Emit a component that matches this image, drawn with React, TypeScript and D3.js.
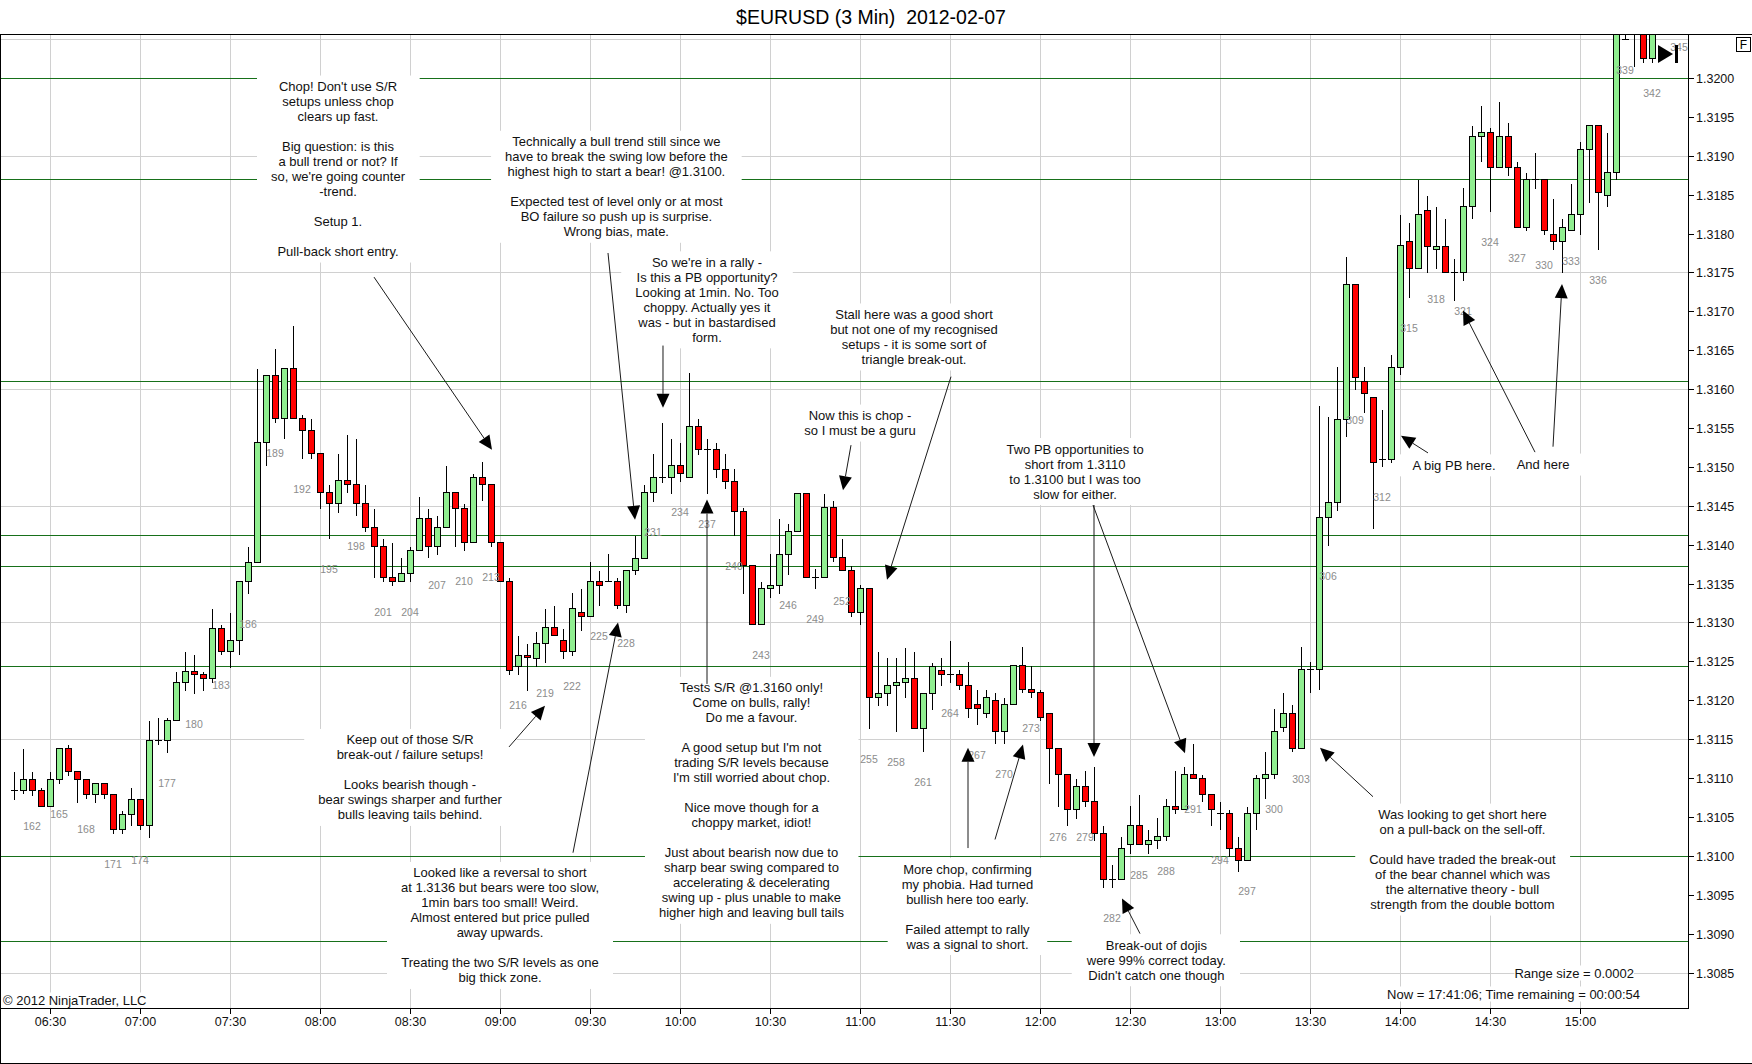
import { useEffect, useRef } from 'react';
import * as d3 from 'd3';

// 3 min EURUSD bars, numbered from firstBar
const firstBar = 160;
const opens = [
  1.31084, 1.31084, 1.31099, 1.31084, 1.31064, 1.31099, 1.31139, 1.31109, 1.31099, 1.31079,
  1.31094, 1.31079, 1.31035, 1.31054, 1.31073, 1.31039, 1.31149, 1.31149, 1.31174, 1.31223,
  1.31238, 1.31234, 1.31229, 1.31293, 1.31263, 1.31278, 1.31353, 1.31378, 1.31532, 1.31618,
  1.31563, 1.31627, 1.31563, 1.31547, 1.31518, 1.31468, 1.31453, 1.31483, 1.31478, 1.31453,
  1.31423, 1.31398, 1.31358, 1.31353, 1.31363, 1.31393, 1.31434, 1.31398, 1.31423, 1.31468,
  1.31447, 1.31403, 1.31487, 1.31478, 1.31403, 1.31353, 1.31244, 1.31258, 1.31254, 1.31273,
  1.31294, 1.31278, 1.31263, 1.31313, 1.31308, 1.31353, 1.31353, 1.31353, 1.31323, 1.31368,
  1.31383, 1.31468, 1.31487, 1.31487, 1.31502, 1.31487, 1.31553, 1.31523, 1.31523, 1.31497,
  1.31482, 1.31443, 1.31374, 1.31298, 1.31344, 1.31348, 1.31388, 1.31418, 1.31467, 1.31358,
  1.31358, 1.31448, 1.31384, 1.31368, 1.31313, 1.31344, 1.31204, 1.31209, 1.31219, 1.31223,
  1.31228, 1.31164, 1.31209, 1.31239, 1.31234, 1.31234, 1.31219, 1.31195, 1.31184, 1.312,
  1.3116, 1.31195, 1.31245, 1.31214, 1.3121, 1.31184, 1.31139, 1.31105, 1.3106, 1.3109,
  1.3107, 1.31029, 1.3097, 1.3097, 1.31015, 1.31039, 1.31015, 1.3102, 1.31025, 1.31064,
  1.3106, 1.31105, 1.311, 1.3108, 1.31055, 1.31055, 1.3101, 1.30995, 1.31055, 1.311,
  1.31105, 1.31165, 1.31184, 1.31139, 1.3124, 1.3124, 1.31436, 1.31455, 1.31561, 1.31735,
  1.3161, 1.3159, 1.3151, 1.3151, 1.31629, 1.3179, 1.31756, 1.3183, 1.3178, 1.31784,
  1.31751, 1.31751, 1.31835, 1.31925, 1.3193, 1.31885, 1.31925, 1.31885, 1.31809, 1.3187,
  1.3187, 1.318, 1.3179, 1.31804, 1.31825, 1.31909, 1.31939, 1.3185, 1.31879, 1.3205,
  1.3207, 1.3206, 1.32026, 1.3207, 1.321, 1.3212,
];
const highs = [
  1.31109, 1.31139, 1.31109, 1.31089, 1.31109, 1.31139, 1.31144, 1.31109, 1.31099, 1.31094,
  1.31094, 1.31079, 1.31059, 1.31089, 1.31073, 1.31174, 1.31179, 1.31179, 1.31238, 1.31263,
  1.31259, 1.31238, 1.31318, 1.31298, 1.31313, 1.31353, 1.31398, 1.31627, 1.31618, 1.31653,
  1.31627, 1.31683, 1.31568, 1.31563, 1.31518, 1.31478, 1.31518, 1.31542, 1.31537, 1.31478,
  1.31447, 1.31408, 1.31403, 1.31384, 1.31398, 1.31463, 1.31447, 1.31438, 1.31503, 1.31468,
  1.31453, 1.31492, 1.31508, 1.31478, 1.31403, 1.31358, 1.31284, 1.31273, 1.31289, 1.31319,
  1.31323, 1.31293, 1.31339, 1.31344, 1.31379, 1.31368, 1.31389, 1.31358, 1.31368, 1.31413,
  1.31478, 1.31518, 1.31558, 1.31537, 1.31532, 1.31622, 1.31563, 1.31537, 1.31532, 1.31518,
  1.31498, 1.31448, 1.31374, 1.31353, 1.31389, 1.31434, 1.31428, 1.31467, 1.31467, 1.3137,
  1.31467, 1.31458, 1.31409, 1.31374, 1.31349, 1.31344, 1.31263, 1.31255, 1.31255, 1.31269,
  1.31263, 1.31209, 1.31249, 1.31255, 1.31278, 1.3124, 1.3125, 1.31214, 1.31214, 1.3121,
  1.31204, 1.31245, 1.3127, 1.31245, 1.31214, 1.31184, 1.31139, 1.31105, 1.311, 1.3111,
  1.31115, 1.3104, 1.30989, 1.31025, 1.31065, 1.3108, 1.31034, 1.3105, 1.31074, 1.3111,
  1.31115, 1.31145, 1.31105, 1.3108, 1.3107, 1.3106, 1.31025, 1.31064, 1.31105, 1.31135,
  1.3119, 1.3121, 1.31195, 1.3127, 1.3125, 1.3158, 1.31566, 1.3163, 1.31771, 1.31735,
  1.3163, 1.3159, 1.31575, 1.31645, 1.31825, 1.31815, 1.3187, 1.3185, 1.31835, 1.3182,
  1.31769, 1.3186, 1.31939, 1.31965, 1.31937, 1.3197, 1.31944, 1.31893, 1.31879, 1.31905,
  1.3187, 1.31846, 1.3182, 1.31865, 1.31919, 1.31939, 1.31939, 1.3193, 1.3209, 1.321,
  1.3209, 1.3208, 1.321, 1.3212, 1.3214, 1.3215,
];
const lows = [
  1.31073, 1.31081, 1.31078, 1.31064, 1.31064, 1.31094, 1.31104, 1.31069, 1.31074, 1.31069,
  1.31074, 1.31029, 1.31029, 1.31039, 1.31034, 1.31024, 1.31144, 1.31134, 1.31174, 1.31213,
  1.31209, 1.31213, 1.31223, 1.31259, 1.31243, 1.31259, 1.31338, 1.31378, 1.31502, 1.31558,
  1.31537, 1.31563, 1.31512, 1.31512, 1.31447, 1.31408, 1.31442, 1.31468, 1.31438, 1.31418,
  1.31358, 1.31353, 1.31348, 1.31353, 1.31353, 1.31393, 1.31384, 1.31388, 1.31423, 1.31398,
  1.31393, 1.31403, 1.31458, 1.31398, 1.31353, 1.31234, 1.31234, 1.31213, 1.31244, 1.31249,
  1.31284, 1.31254, 1.31258, 1.3129, 1.31308, 1.31323, 1.31353, 1.31319, 1.31313, 1.31362,
  1.31383, 1.31456, 1.31481, 1.31467, 1.31482, 1.31487, 1.31517, 1.31467, 1.31487, 1.31473,
  1.31413, 1.31338, 1.31298, 1.31298, 1.31333, 1.31338, 1.31362, 1.31418, 1.31358, 1.31344,
  1.31358, 1.31379, 1.31368, 1.31308, 1.31298, 1.31164, 1.31194, 1.31194, 1.3116, 1.31204,
  1.31164, 1.31135, 1.31189, 1.31219, 1.31223, 1.31214, 1.31179, 1.31169, 1.31179, 1.31145,
  1.31145, 1.31195, 1.3121, 1.31204, 1.31175, 1.31094, 1.31064, 1.3104, 1.31049, 1.31064,
  1.3102, 1.3096, 1.3096, 1.3097, 1.31004, 1.31015, 1.31004, 1.3101, 1.3102, 1.31055,
  1.3106, 1.311, 1.3107, 1.31039, 1.31034, 1.31, 1.3098, 1.30995, 1.31034, 1.31074,
  1.311, 1.3116, 1.31135, 1.31139, 1.3121, 1.31214, 1.31399, 1.31444, 1.3154, 1.316,
  1.31571, 1.31421, 1.31501, 1.31506, 1.3162, 1.31719, 1.31756, 1.31751, 1.31756, 1.31751,
  1.31714, 1.3174, 1.3182, 1.31893, 1.31829, 1.31885, 1.31875, 1.31809, 1.31804, 1.31859,
  1.318, 1.3178, 1.31751, 1.31804, 1.318, 1.3184, 1.3178, 1.31835, 1.3187, 1.3205,
  1.32015, 1.3202, 1.3202, 1.3206, 1.3208, 1.3208,
];
const closes = [
  1.31084, 1.31099, 1.31084, 1.31064, 1.31099, 1.31139, 1.31109, 1.31099, 1.31079, 1.31094,
  1.31079, 1.31035, 1.31054, 1.31073, 1.31039, 1.31149, 1.31149, 1.31174, 1.31223, 1.31238,
  1.31234, 1.31229, 1.31293, 1.31263, 1.31278, 1.31353, 1.31378, 1.31532, 1.31618, 1.31563,
  1.31627, 1.31563, 1.31547, 1.31518, 1.31468, 1.31453, 1.31483, 1.31478, 1.31453, 1.31423,
  1.31398, 1.31358, 1.31353, 1.31363, 1.31393, 1.31434, 1.31398, 1.31423, 1.31468, 1.31447,
  1.31403, 1.31487, 1.31478, 1.31403, 1.31353, 1.31239, 1.31258, 1.31255, 1.31273, 1.31294,
  1.31284, 1.31263, 1.31318, 1.31308, 1.31353, 1.31348, 1.31353, 1.31323, 1.31368, 1.31383,
  1.31468, 1.31487, 1.31487, 1.31502, 1.31492, 1.31553, 1.31523, 1.31523, 1.31497, 1.31482,
  1.31443, 1.31374, 1.31298, 1.31344, 1.31348, 1.31388, 1.31418, 1.31467, 1.31358, 1.31358,
  1.31448, 1.31384, 1.31368, 1.31313, 1.31344, 1.31204, 1.31209, 1.31219, 1.31223, 1.31228,
  1.31164, 1.31209, 1.31244, 1.31234, 1.31234, 1.31219, 1.3119, 1.3119, 1.31204, 1.3116,
  1.31195, 1.31245, 1.31214, 1.3121, 1.31179, 1.31139, 1.31105, 1.3106, 1.3109, 1.3107,
  1.31029, 1.3097, 1.3097, 1.3101, 1.31039, 1.31015, 1.3102, 1.31025, 1.31064, 1.3106,
  1.31105, 1.311, 1.3108, 1.3106, 1.31055, 1.3101, 1.30995, 1.31055, 1.311, 1.31105,
  1.3116, 1.31184, 1.31139, 1.3124, 1.3124, 1.31436, 1.31455, 1.31561, 1.31735, 1.31616,
  1.31595, 1.31506, 1.3151, 1.31629, 1.31785, 1.31756, 1.31825, 1.31784, 1.31784, 1.31751,
  1.31751, 1.31835, 1.31925, 1.3193, 1.31885, 1.31925, 1.31885, 1.31809, 1.3187, 1.3187,
  1.31804, 1.3179, 1.31809, 1.31825, 1.31909, 1.31939, 1.31854, 1.31879, 1.3208, 1.3205,
  1.3206, 1.32026, 1.3207, 1.321, 1.3212, 1.3213,
];

const timeTickBars = [164, 174, 184, 194, 204, 214, 224, 234, 244, 254, 264, 274, 284, 294, 304, 314, 324, 334];
const timeTickLabels = [
  '06:30', '07:00', '07:30', '08:00', '08:30', '09:00', '09:30', '10:00', '10:30',
  '11:00', '11:30', '12:00', '12:30', '13:00', '13:30', '14:00', '14:30', '15:00',
];
const priceTicks = [
  1.3085, 1.309, 1.3095, 1.31, 1.3105, 1.311, 1.3115, 1.312, 1.3125, 1.313, 1.3135, 1.314,
  1.3145, 1.315, 1.3155, 1.316, 1.3165, 1.317, 1.3175, 1.318, 1.3185, 1.319, 1.3195, 1.32,
];
const gridPrices = [1.3205, 1.319, 1.3175, 1.316, 1.3145, 1.313, 1.3115, 1.31, 1.3085];
const srLevels = [1.32, 1.3187, 1.31611, 1.31412, 1.31372, 1.31244, 1.31, 1.30891];

// text notes anchored at (bar, price of first line)
const notes = [
  { bar: 196, price: 1.31989, lines: ["Chop! Don't use S/R", 'setups unless chop', 'clears up fast.', '', 'Big question: is this', 'a bull trend or not? If', "so, we're going counter", '-trend.', '', 'Setup 1.', '', 'Pull-back short entry.'] },
  { bar: 226.93, price: 1.31918, lines: ['Technically a bull trend still since we', 'have to break the swing low before the', 'highest high to start a bear! @1.3100.', '', 'Expected test of level only or at most', 'BO failure so push up is surprise.', 'Wrong bias, mate.'] },
  { bar: 237, price: 1.31763, lines: ["So we're in a rally -", 'Is this a PB opportunity?', 'Looking at 1min. No. Too', 'choppy. Actually yes it', 'was - but in bastardised', 'form.'] },
  { bar: 260, price: 1.31696, lines: ['Stall here was a good short', 'but not one of my recognised', 'setups - it is some sort of', 'triangle break-out.'] },
  { bar: 254, price: 1.31566, lines: ['Now this is chop -', 'so I must be a guru'] },
  { bar: 277.9, price: 1.31523, lines: ['Two PB opportunities to', 'short from 1.3110', 'to 1.3100 but I was too', 'slow for either.'] },
  { bar: 320, price: 1.31502, lines: ['A big PB here.'] },
  { bar: 329.9, price: 1.31503, lines: ['And here'] },
  { bar: 204, price: 1.31149, lines: ['Keep out of those S/R', 'break-out / failure setups!', '', 'Looks bearish though -', 'bear swings sharper and further', 'bulls leaving tails behind.'] },
  { bar: 241.94, price: 1.31216, lines: ['Tests S/R @1.3160 only!', 'Come on bulls, rally!', 'Do me a favour.', '', "A good setup but I'm not", 'trading S/R levels because', "I'm still worried about chop.", '', 'Nice move though for a', 'choppy market, idiot!', '', 'Just about bearish now due to', 'sharp bear swing compared to', 'accelerating & decelerating', 'swing up - plus unable to make', 'higher high and leaving bull tails'] },
  { bar: 214, price: 1.30978, lines: ['Looked like a reversal to short', 'at 1.3136 but bears were too slow,', '1min bars too small! Weird.', 'Almost entered but price pulled', 'away upwards.', '', 'Treating the two S/R levels as one', 'big thick zone.'] },
  { bar: 265.94, price: 1.30983, lines: ['More chop, confirming', 'my phobia. Had turned', 'bullish here too early.', '', 'Failed attempt to rally', 'was a signal to short.'] },
  { bar: 286.93, price: 1.30885, lines: ['Break-out of dojis', 'were 99% correct today.', "Didn't catch one though"] },
  { bar: 320.94, price: 1.31053, lines: ['Was looking to get short here', 'on a pull-back on the sell-off.', '', 'Could have traded the break-out', 'of the bear channel which was', 'the alternative theory - bull', 'strength from the double bottom'] },
];

// arrows: [bar, price] -> [bar, price]
const arrows = [
  { from: [200, 1.31744], to: [213.11, 1.31522] },
  { from: [226, 1.31775], to: [229, 1.31432] },
  { from: [232.11, 1.31656], to: [232.11, 1.31576] },
  { from: [237, 1.31221], to: [237, 1.31458] },
  { from: [253, 1.31528], to: [252.11, 1.3147] },
  { from: [264.11, 1.31616], to: [257, 1.31355] },
  { from: [215, 1.3114], to: [219, 1.31193] },
  { from: [222.11, 1.31004], to: [227.11, 1.313] },
  { from: [266, 1.3101], to: [266, 1.31139] },
  { from: [269, 1.31021], to: [272.11, 1.31143] },
  { from: [280, 1.31451], to: [280, 1.31127] },
  { from: [279.89, 1.31451], to: [290.11, 1.31132] },
  { from: [285.11, 1.309], to: [283.11, 1.30945] },
  { from: [311, 1.31076], to: [305.11, 1.31139] },
  { from: [317.11, 1.31518], to: [314.11, 1.3154] },
  { from: [329, 1.31519], to: [321, 1.31701] },
  { from: [331, 1.31526], to: [332, 1.31735] },
];

const W = 1752;
const H = 1064;
const FONT = '"Liberation Sans", Arial, sans-serif';

export default function App() {
  const svgRef = useRef<SVGSVGElement>(null);

  useEffect(() => {
    document.body.style.margin = '0';
    if (!svgRef.current) return;
    const svg = d3.select(svgRef.current);
    svg.selectAll('*').remove();

    const plot = { left: 0, top: 34, right: 1688, bottom: 1008 };
    const x = d3.scaleLinear().domain([162, 345]).range([32, 1679]);
    const y = d3.scaleLinear().domain([1.32, 1.3085]).range([78, 972.5]);
    const px = (v: number) => Math.round(v) + 0.5;

    const bars = opens.map((o, i) => ({
      n: firstBar + i,
      o,
      h: highs[i],
      l: lows[i],
      c: closes[i],
    }));

    svg.append('rect').attr('width', W).attr('height', H).attr('fill', '#fff');

    svg.append('defs').append('clipPath').attr('id', 'plotClip')
      .append('rect')
      .attr('x', plot.left).attr('y', plot.top + 1)
      .attr('width', plot.right - plot.left).attr('height', plot.bottom - plot.top - 1);

    // title (two spaces kept)
    svg.append('text')
      .attr('x', 871).attr('y', 17)
      .attr('text-anchor', 'middle').attr('dominant-baseline', 'central')
      .attr('font-family', FONT).attr('font-size', 19.5).attr('fill', '#000')
      .text('$EURUSD (3 Min)\u00a0\u00a02012-02-07');

    const g = svg.append('g').attr('clip-path', 'url(#plotClip)');

    // grid
    const gridG = g.append('g').attr('shape-rendering', 'crispEdges');
    gridG.selectAll('.vgrid').data(timeTickBars).join('line')
      .attr('x1', (d) => px(x(d))).attr('x2', (d) => px(x(d)))
      .attr('y1', plot.top).attr('y2', plot.bottom)
      .attr('stroke', '#d0d0d0');
    gridG.selectAll('.hgrid').data(gridPrices).join('line')
      .attr('x1', plot.left).attr('x2', plot.right)
      .attr('y1', (d) => px(y(d))).attr('y2', (d) => px(y(d)))
      .attr('stroke', '#d0d0d0');

    // S/R lines
    g.append('g').attr('shape-rendering', 'crispEdges')
      .selectAll('line').data(srLevels).join('line')
      .attr('x1', plot.left).attr('x2', plot.right)
      .attr('y1', (d) => px(y(d))).attr('y2', (d) => px(y(d)))
      .attr('stroke', '#17701a');

    // notes with white backing
    const noteLayer = svg.append('g');
    const noteGroups = notes.map((nt) => {
      const ng = noteLayer.append('g');
      const x0 = x(nt.bar);
      const y0 = y(nt.price);
      nt.lines.forEach((line, i) => {
        if (!line) return;
        ng.append('text')
          .attr('x', x0).attr('y', y0 + i * 15)
          .attr('text-anchor', 'middle').attr('dominant-baseline', 'central')
          .attr('font-family', FONT).attr('font-size', 13).attr('fill', '#111')
          .text(line);
      });
      const bb = (ng.node() as SVGGElement).getBBox();
      ng.insert('rect', ':first-child')
        .attr('x', bb.x - 14).attr('width', bb.width + 28)
        .attr('y', y0 - 11).attr('height', (nt.lines.length - 1) * 15 + 22)
        .attr('fill', '#fff');
      return ng;
    });

    // candles
    const cg = g.append('g').attr('shape-rendering', 'crispEdges');
    bars.forEach((b) => {
      const xr = Math.round(x(b.n));
      const up = b.c >= b.o;
      const yTop = px(y(Math.max(b.o, b.c)));
      const yBot = px(y(Math.min(b.o, b.c)));
      cg.append('line')
        .attr('x1', xr + 0.5).attr('x2', xr + 0.5)
        .attr('y1', px(y(b.h))).attr('y2', px(y(b.l)))
        .attr('stroke', '#000');
      if (yBot - yTop < 1) {
        cg.append('line')
          .attr('x1', xr - 3).attr('x2', xr + 4)
          .attr('y1', yTop).attr('y2', yTop)
          .attr('stroke', '#000');
      } else {
        cg.append('rect')
          .attr('x', xr - 2.5).attr('width', 6)
          .attr('y', yTop).attr('height', yBot - yTop)
          .attr('fill', up ? '#90ee90' : '#ff0000')
          .attr('stroke', '#000');
      }
    });

    // bar numbers every third bar
    g.selectAll('.num').data(bars.filter((b) => b.n >= 162 && (b.n - 162) % 3 === 0)).join('text')
      .attr('x', (d) => x(d.n)).attr('y', (d) => y(d.l) + 31)
      .attr('text-anchor', 'middle').attr('dominant-baseline', 'central')
      .attr('font-family', FONT).attr('font-size', 10.5).attr('fill', '#8c8c8c')
      .text((d) => d.n);

    // last bar marker
    const mx = x(343) - 3;
    g.append('path')
      .attr('d', `M${mx},45 L${mx},63 L${mx + 15},54 Z`)
      .attr('fill', '#000');
    g.append('rect').attr('x', mx + 17).attr('y', 45).attr('width', 3).attr('height', 18).attr('fill', '#000');

    // arrows
    const ag = svg.append('g');
    arrows.forEach((a) => {
      const x1 = x(a.from[0]);
      const y1 = y(a.from[1]);
      const x2 = x(a.to[0]);
      const y2 = y(a.to[1]);
      const len = Math.hypot(x2 - x1, y2 - y1);
      const ux = (x2 - x1) / len;
      const uy = (y2 - y1) / len;
      const bx = x2 - ux * 14;
      const by = y2 - uy * 14;
      ag.append('line')
        .attr('x1', x1).attr('y1', y1).attr('x2', bx).attr('y2', by)
        .attr('stroke', '#1a1a1a').attr('stroke-width', 1);
      ag.append('path')
        .attr('d', `M${x2},${y2} L${bx - uy * 6.5},${by + ux * 6.5} L${bx + uy * 6.5},${by - ux * 6.5} Z`)
        .attr('fill', '#000');
    });
    noteGroups.forEach((ng) => ng.raise());

    // info texts with white backing
    const info = [
      { text: 'Range size = 0.0002', x: 1634, y: 973, anchor: 'end' },
      { text: 'Now = 17:41:06; Time remaining = 00:00:54', x: 1640, y: 994, anchor: 'end' },
      { text: '\u00a9 2012 NinjaTrader, LLC', x: 3, y: 1000, anchor: 'start' },
    ];
    info.forEach((t) => {
      const tg = svg.append('g');
      tg.append('text')
        .attr('x', t.x).attr('y', t.y)
        .attr('text-anchor', t.anchor).attr('dominant-baseline', 'central')
        .attr('font-family', FONT).attr('font-size', 13).attr('fill', '#111')
        .text(t.text);
      const bb = (tg.node() as SVGGElement).getBBox();
      tg.insert('rect', ':first-child')
        .attr('x', bb.x).attr('y', bb.y).attr('width', bb.width).attr('height', bb.height)
        .attr('fill', '#fff');
    });

    // frame and axes
    const frame = svg.append('g').attr('stroke', '#000').attr('fill', 'none').attr('shape-rendering', 'crispEdges');
    frame.append('line').attr('x1', 0).attr('x2', W).attr('y1', plot.top + 0.5).attr('y2', plot.top + 0.5);
    frame.append('line').attr('x1', 0.5).attr('x2', 0.5).attr('y1', plot.top).attr('y2', H);
    frame.append('line').attr('x1', 0).attr('x2', W).attr('y1', H - 0.5).attr('y2', H - 0.5);
    frame.append('line').attr('x1', 0).attr('x2', plot.right).attr('y1', plot.bottom + 0.5).attr('y2', plot.bottom + 0.5);
    frame.append('line').attr('x1', plot.right + 0.5).attr('x2', plot.right + 0.5).attr('y1', plot.top).attr('y2', plot.bottom + 1);

    // price axis
    const ya = svg.append('g');
    priceTicks.forEach((p) => {
      const yy = px(y(p));
      ya.append('line').attr('x1', plot.right).attr('x2', plot.right + 6).attr('y1', yy).attr('y2', yy)
        .attr('stroke', '#000').attr('shape-rendering', 'crispEdges');
      ya.append('text')
        .attr('x', plot.right + 8).attr('y', yy)
        .attr('dominant-baseline', 'central')
        .attr('font-family', FONT).attr('font-size', 12.5).attr('fill', '#111')
        .text(d3.format('.4f')(p));
    });

    // time axis
    const xa = svg.append('g');
    timeTickBars.forEach((b, i) => {
      const xx = px(x(b));
      xa.append('line').attr('x1', xx).attr('x2', xx).attr('y1', plot.bottom).attr('y2', plot.bottom + 6)
        .attr('stroke', '#000').attr('shape-rendering', 'crispEdges');
      xa.append('text')
        .attr('x', xx).attr('y', 1022)
        .attr('text-anchor', 'middle').attr('dominant-baseline', 'central')
        .attr('font-family', FONT).attr('font-size', 12.5).attr('fill', '#111')
        .text(timeTickLabels[i]);
    });

    // F box
    svg.append('rect').attr('x', 1736.5).attr('y', 37.5).attr('width', 14).attr('height', 14)
      .attr('fill', '#fff').attr('stroke', '#000');
    svg.append('text').attr('x', 1743.5).attr('y', 45).attr('text-anchor', 'middle')
      .attr('dominant-baseline', 'central').attr('font-family', FONT).attr('font-size', 12)
      .text('F');
  }, []);

  return <svg ref={svgRef} width={W} height={H} style={{ display: 'block' }} />;
}
